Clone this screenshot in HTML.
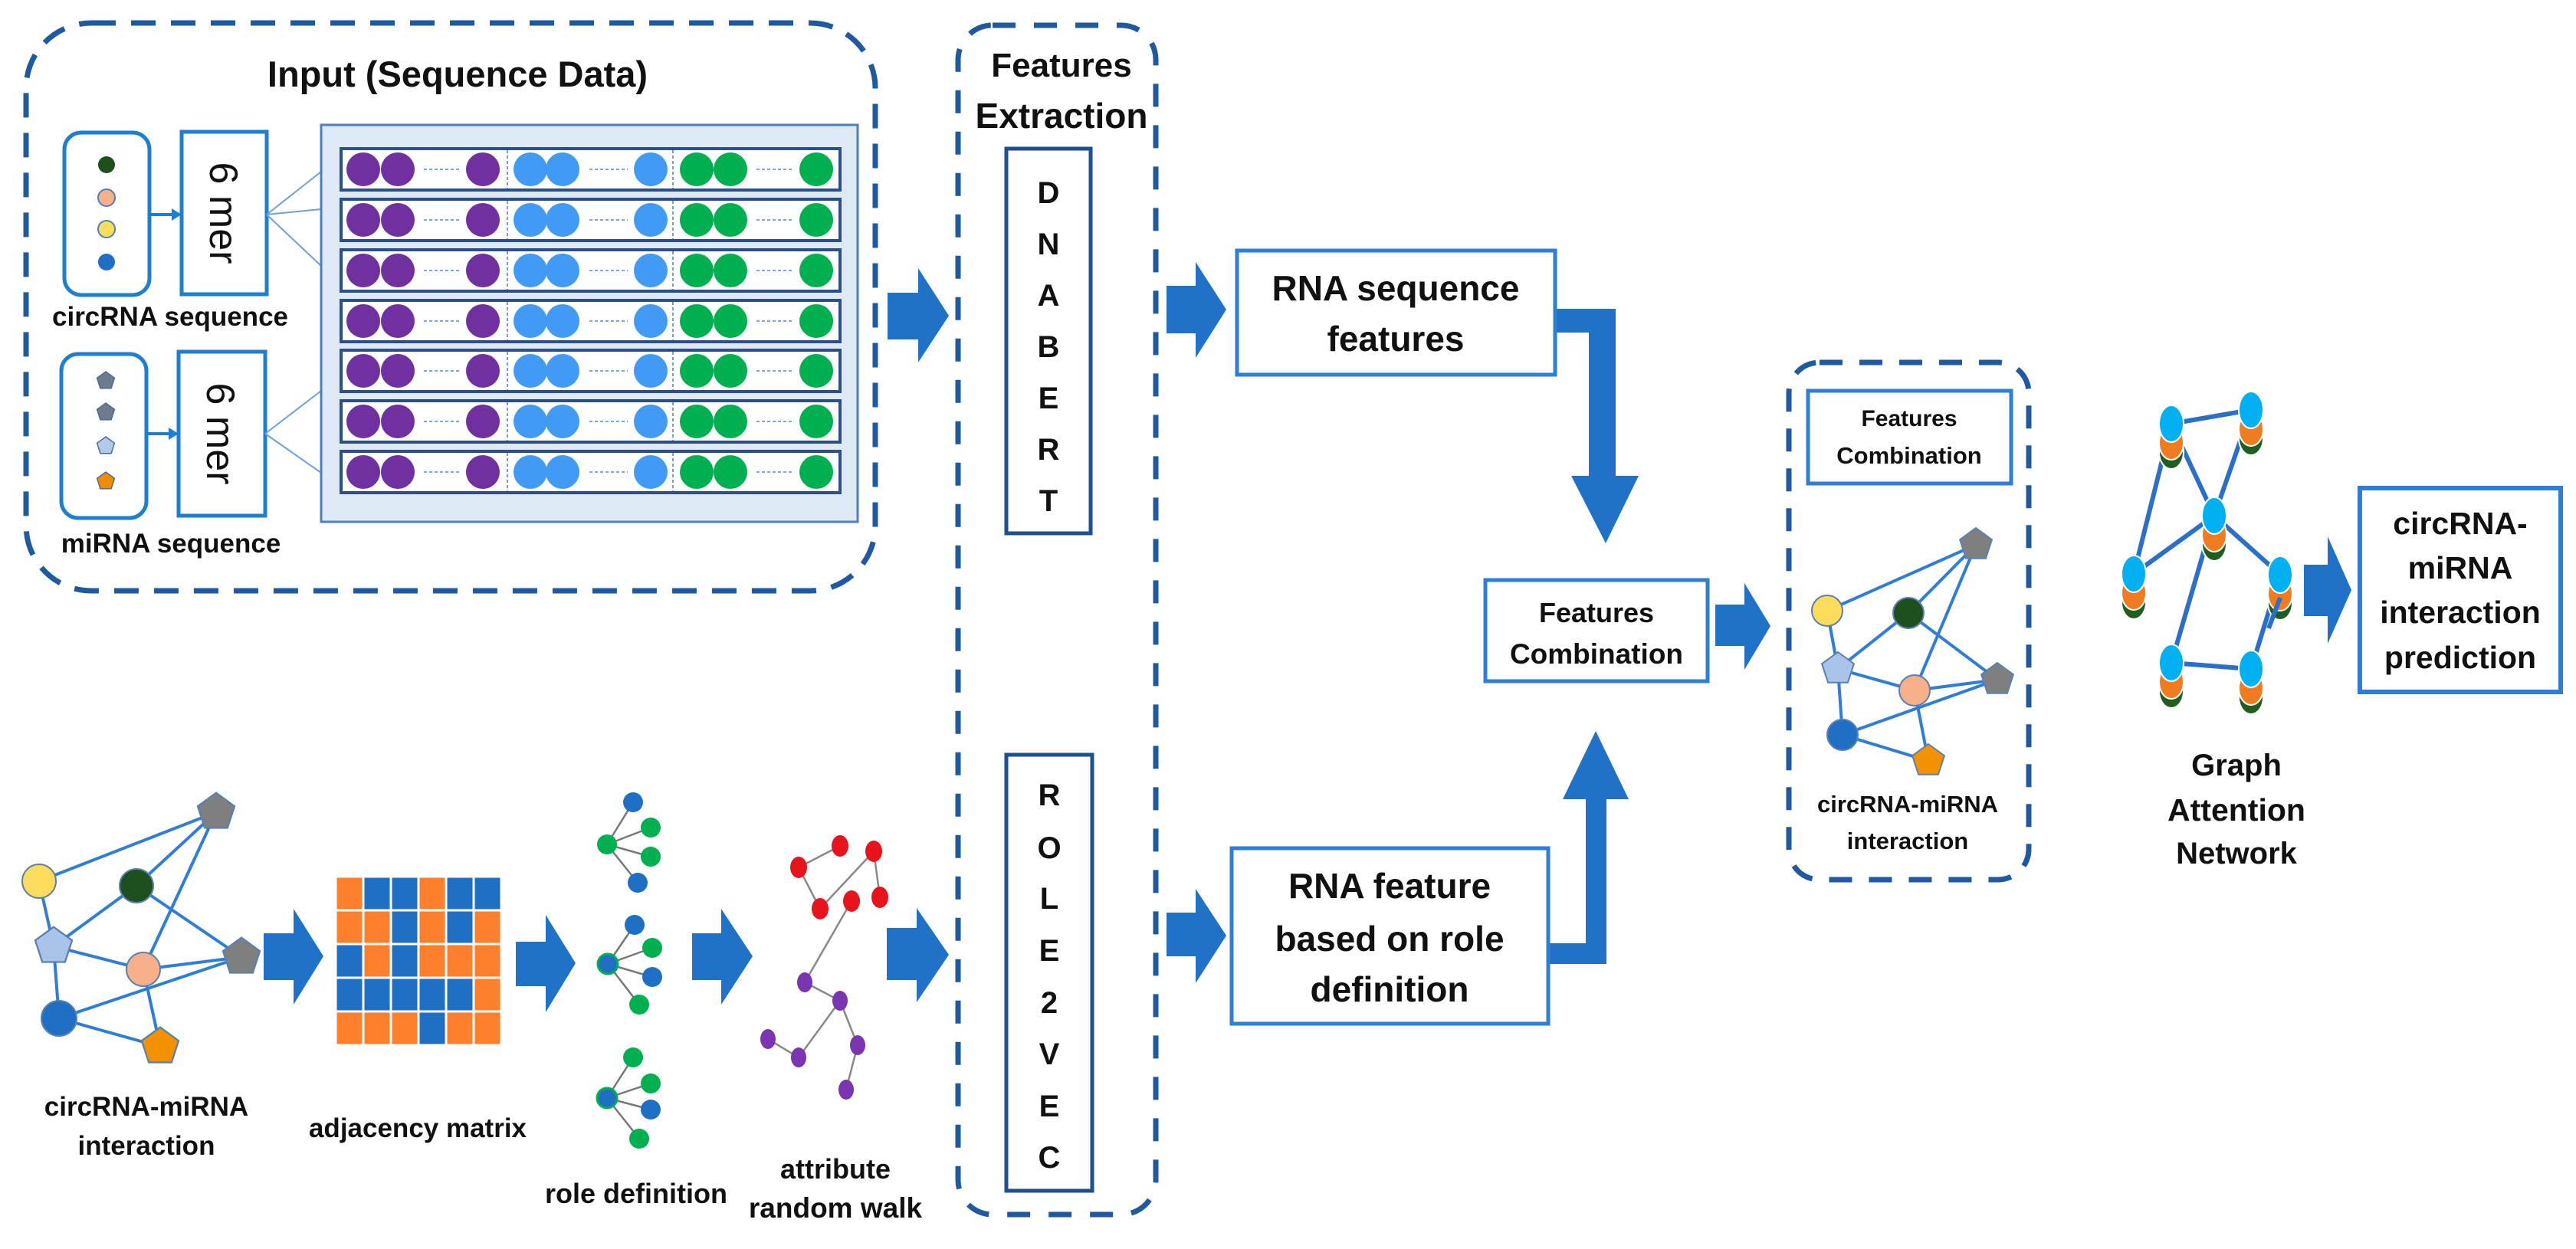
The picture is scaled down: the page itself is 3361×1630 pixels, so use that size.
<!DOCTYPE html>
<html><head><meta charset="utf-8"><style>
html,body{margin:0;padding:0;background:#fff}
svg{display:block}
text{font-family:"Liberation Sans",sans-serif;font-weight:bold;fill:#111}
</style></head><body>
<svg width="3361" height="1630" viewBox="0 0 3361 1630" xmlns="http://www.w3.org/2000/svg">
<defs>
<polygon id="pent" points="0,-22 20.9,-6.8 12.9,17.8 -12.9,17.8 -20.9,-6.8"/>
<polygon id="spent" points="0,-12 11.4,-3.7 7.1,9.7 -7.1,9.7 -11.4,-3.7"/>
<g id="row">
<rect x="445" y="0" width="651" height="54" fill="#fff" stroke="#2c4f8a" stroke-width="4"/>
<line x1="662" y1="2" x2="662" y2="52" stroke="#4a7fc0" stroke-width="1.5" stroke-dasharray="4 3"/>
<line x1="878" y1="2" x2="878" y2="52" stroke="#4a7fc0" stroke-width="1.5" stroke-dasharray="4 3"/>
<circle cx="474" cy="27" r="22" fill="#7030a0"/><circle cx="519" cy="27" r="22" fill="#7030a0"/><circle cx="630" cy="27" r="22" fill="#7030a0"/>
<circle cx="692" cy="27" r="22" fill="#419bf5"/><circle cx="734" cy="27" r="22" fill="#419bf5"/><circle cx="849" cy="27" r="22" fill="#419bf5"/>
<circle cx="909" cy="27" r="22" fill="#00b050"/><circle cx="953" cy="27" r="22" fill="#00b050"/><circle cx="1065" cy="27" r="22" fill="#00b050"/>
<g stroke="#7ea6e0" stroke-width="2" stroke-dasharray="4 3"><line x1="553" y1="27" x2="600" y2="27"/><line x1="769" y1="27" x2="819" y2="27"/><line x1="987" y1="27" x2="1033" y2="27"/></g>
</g>
</defs>

<!-- Input dashed box -->
<rect x="34" y="30" width="1108" height="741" rx="85" fill="none" stroke="#1f5aa0" stroke-width="7" stroke-dasharray="32 20"/>
<text x="597" y="113" font-size="47" text-anchor="middle">Input (Sequence Data)</text>

<rect x="84" y="173" width="111" height="212" rx="22" fill="none" stroke="#1e7fd0" stroke-width="5"/>
<circle cx="139" cy="215" r="11" fill="#1f4e1f"/><circle cx="139" cy="258" r="11" fill="#f8b08a" stroke="#4a7fc0" stroke-width="2"/><circle cx="139" cy="299" r="11" fill="#fddc5c" stroke="#4a7fc0" stroke-width="2"/><circle cx="139" cy="342" r="11" fill="#1f6fc5"/>
<line x1="195" y1="280" x2="228" y2="280" stroke="#1e7fd0" stroke-width="4"/><polygon points="237,280 224,272 224,288" fill="#1e7fd0"/>
<rect x="237" y="172" width="111" height="212" fill="#fff" stroke="#1e7fd0" stroke-width="5"/>
<text transform="translate(274,278) rotate(90)" font-size="52" text-anchor="middle" style="font-weight:normal">6 mer</text>
<text x="222" y="425" font-size="35" text-anchor="middle">circRNA sequence</text>

<rect x="80" y="462" width="111" height="214" rx="22" fill="none" stroke="#1e7fd0" stroke-width="5"/>
<g stroke="#4a6a9a" stroke-width="1.5"><use href="#spent" x="138" y="497" fill="#6e7b8b"/><use href="#spent" x="138" y="538" fill="#6e7b8b"/><use href="#spent" x="138" y="582" fill="#b4c8e8"/><use href="#spent" x="138" y="628" fill="#f08c00"/></g>
<line x1="191" y1="566" x2="224" y2="566" stroke="#1e7fd0" stroke-width="4"/><polygon points="233,566 220,558 220,574" fill="#1e7fd0"/>
<rect x="233" y="459" width="113" height="214" fill="#fff" stroke="#1e7fd0" stroke-width="5"/>
<text transform="translate(270,566) rotate(90)" font-size="52" text-anchor="middle" style="font-weight:normal">6 mer</text>
<text x="223" y="721" font-size="35" text-anchor="middle">miRNA sequence</text>

<g stroke="#6e9fdc" stroke-width="2"><line x1="348" y1="280" x2="419" y2="224"/><line x1="348" y1="280" x2="419" y2="273"/><line x1="348" y1="280" x2="419" y2="347"/><line x1="346" y1="566" x2="419" y2="510"/><line x1="346" y1="566" x2="419" y2="617"/></g>
<rect x="419" y="163" width="700" height="518" fill="#dde9f5" stroke="#4a7fc0" stroke-width="3"/>
<use href="#row" y="194"/><use href="#row" y="260"/><use href="#row" y="326"/><use href="#row" y="392"/><use href="#row" y="457"/><use href="#row" y="523"/><use href="#row" y="589"/>

<!-- arrows -->
<g fill="#1f72c8">
<polygon points="1158,382 1198,382 1198,350 1238,412 1198,473 1198,443 1158,443"/>
<polygon points="1522,373 1560,373 1560,342 1600,404 1560,467 1560,435 1522,435"/>
<polygon points="1157,1211 1196,1211 1196,1185 1238,1246 1196,1308 1196,1279 1157,1279"/>
<polygon points="1522,1191 1560,1191 1560,1160 1600,1221 1560,1283 1560,1248 1522,1248"/>
<polygon points="2029,403 2108,403 2108,621 2138,621 2095,709 2050,621 2073,621 2073,434 2029,434"/>
<polygon points="2018,1231 2069,1231 2069,1043 2039,1043 2082,954 2125,1043 2096,1043 2096,1258 2018,1258"/>
<polygon points="2238,789 2276,789 2276,761 2310,817 2276,874 2276,843 2238,843"/>
<polygon points="3006,737 3037,737 3037,700 3068,770 3037,840 3037,804 3006,804"/>
<polygon points="344,1218 383,1218 383,1186 422,1248 383,1311 383,1279 344,1279"/>
<polygon points="673,1229 712,1229 712,1194 751,1257 712,1321 712,1287 673,1287"/>
<polygon points="903,1218 941,1218 941,1186 982,1248 941,1311 941,1279 903,1279"/>
</g>

<!-- Features Extraction -->
<rect x="1250" y="33" width="258" height="1552" rx="45" fill="none" stroke="#1f5aa0" stroke-width="7" stroke-dasharray="30 24"/>
<text x="1385" y="100" font-size="44" text-anchor="middle">Features</text>
<text x="1385" y="167" font-size="46" text-anchor="middle">Extraction</text>
<rect x="1313" y="194" width="110" height="502" fill="#fff" stroke="#1f4f8f" stroke-width="5"/>
<g font-size="40" text-anchor="middle">
<text x="1368" y="265">D</text><text x="1368" y="332">N</text><text x="1368" y="399">A</text><text x="1368" y="466">B</text><text x="1368" y="533">E</text><text x="1368" y="600">R</text><text x="1368" y="667">T</text>
</g>
<rect x="1313" y="985" width="112" height="569" fill="#fff" stroke="#1f4f8f" stroke-width="5"/>
<g font-size="40" text-anchor="middle">
<text x="1369" y="1051">R</text><text x="1369" y="1120">O</text><text x="1369" y="1186">L</text><text x="1369" y="1254">E</text><text x="1369" y="1322">2</text><text x="1369" y="1389">V</text><text x="1369" y="1457">E</text><text x="1369" y="1524">C</text>
</g>

<!-- RNA boxes -->
<rect x="1614" y="327" width="415" height="162" fill="#fff" stroke="#2e7dd6" stroke-width="5"/>
<text x="1821" y="392" font-size="46" text-anchor="middle">RNA sequence</text>
<text x="1821" y="458" font-size="46" text-anchor="middle">features</text>
<rect x="1607" y="1107" width="413" height="229" fill="#fff" stroke="#2e7dd6" stroke-width="5"/>
<text x="1813" y="1172" font-size="46" text-anchor="middle">RNA feature</text>
<text x="1813" y="1241" font-size="46" text-anchor="middle">based on role</text>
<text x="1813" y="1307" font-size="46" text-anchor="middle">definition</text>

<rect x="1938" y="757" width="290" height="132" fill="#fff" stroke="#2e7dd6" stroke-width="5"/>
<text x="2083" y="812" font-size="36" text-anchor="middle">Features</text>
<text x="2083" y="866" font-size="37" text-anchor="middle">Combination</text>

<!-- right dashed box -->
<rect x="2334" y="473" width="313" height="675" rx="40" fill="none" stroke="#1f5aa0" stroke-width="7" stroke-dasharray="30 22"/>
<rect x="2359" y="510" width="265" height="121" fill="#fff" stroke="#2e7dd6" stroke-width="5"/>
<text x="2491" y="556" font-size="30" text-anchor="middle">Features</text>
<text x="2491" y="605" font-size="31" text-anchor="middle">Combination</text>
<g stroke="#2e7dd6" stroke-width="4">
<line x1="2384" y1="797" x2="2578" y2="711"/><line x1="2384" y1="797" x2="2398" y2="873"/><line x1="2490" y1="800" x2="2578" y2="711"/><line x1="2490" y1="800" x2="2398" y2="873"/><line x1="2490" y1="800" x2="2606" y2="887"/><line x1="2578" y1="711" x2="2498" y2="901"/><line x1="2398" y1="873" x2="2498" y2="901"/><line x1="2498" y1="901" x2="2606" y2="887"/><line x1="2398" y1="873" x2="2404" y2="959"/><line x1="2404" y1="959" x2="2606" y2="887"/><line x1="2498" y1="901" x2="2516" y2="993"/><line x1="2404" y1="959" x2="2516" y2="993"/>
</g>
<g stroke="#5a80b0" stroke-width="2">
<circle cx="2384" cy="797" r="20" fill="#fddc5c"/><circle cx="2490" cy="800" r="20" fill="#1f4e1f"/><circle cx="2498" cy="901" r="20" fill="#f8b08a"/><circle cx="2404" cy="959" r="20" fill="#1f6fc5"/>
<use href="#pent" x="2578" y="711" fill="#7f7f7f"/><use href="#pent" x="2606" y="887" fill="#7f7f7f"/><use href="#pent" x="2398" y="873" fill="#a9c4e8"/><use href="#pent" x="2516" y="993" fill="#f39200"/>
</g>
<text x="2489" y="1060" font-size="31" text-anchor="middle">circRNA-miRNA</text>
<text x="2489" y="1108" font-size="31" text-anchor="middle">interaction</text>

<!-- GAT -->
<g stroke="#2a6fc8" stroke-width="6">
<line x1="2833" y1="553" x2="2937" y2="535"/><line x1="2833" y1="553" x2="2784" y2="749"/><line x1="2833" y1="553" x2="2889" y2="673"/><line x1="2937" y1="535" x2="2889" y2="673"/><line x1="2889" y1="673" x2="2784" y2="749"/><line x1="2889" y1="673" x2="2975" y2="750"/><line x1="2889" y1="673" x2="2833" y2="865"/><line x1="2975" y1="750" x2="2937" y2="873"/><line x1="2833" y1="865" x2="2937" y2="873"/>
</g>
<g stroke="#fff" stroke-width="2">
<g><ellipse cx="2833" cy="590" rx="16" ry="22" fill="#1f5e1f"/><ellipse cx="2833" cy="578" rx="16" ry="22" fill="#f07c22"/><ellipse cx="2833" cy="553" rx="16" ry="24" fill="#00b0f0"/></g>
<g><ellipse cx="2937" cy="572" rx="16" ry="22" fill="#1f5e1f"/><ellipse cx="2937" cy="560" rx="16" ry="22" fill="#f07c22"/><ellipse cx="2937" cy="535" rx="16" ry="24" fill="#00b0f0"/></g>
<g><ellipse cx="2889" cy="710" rx="16" ry="22" fill="#1f5e1f"/><ellipse cx="2889" cy="698" rx="16" ry="22" fill="#f07c22"/><ellipse cx="2889" cy="673" rx="16" ry="24" fill="#00b0f0"/></g>
<g><ellipse cx="2784" cy="786" rx="16" ry="22" fill="#1f5e1f"/><ellipse cx="2784" cy="774" rx="16" ry="22" fill="#f07c22"/><ellipse cx="2784" cy="749" rx="16" ry="24" fill="#00b0f0"/></g>
<g><ellipse cx="2975" cy="787" rx="16" ry="22" fill="#1f5e1f"/><ellipse cx="2975" cy="775" rx="16" ry="22" fill="#f07c22"/><ellipse cx="2975" cy="750" rx="16" ry="24" fill="#00b0f0"/></g>
<g><ellipse cx="2833" cy="902" rx="16" ry="22" fill="#1f5e1f"/><ellipse cx="2833" cy="890" rx="16" ry="22" fill="#f07c22"/><ellipse cx="2833" cy="865" rx="16" ry="24" fill="#00b0f0"/></g>
<g><ellipse cx="2937" cy="910" rx="16" ry="22" fill="#1f5e1f"/><ellipse cx="2937" cy="898" rx="16" ry="22" fill="#f07c22"/><ellipse cx="2937" cy="873" rx="16" ry="24" fill="#00b0f0"/></g>
</g>
<line x1="2975" y1="780" x2="2960" y2="820" stroke="#2a6fc8" stroke-width="6"/>
<text x="2918" y="1012" font-size="40" text-anchor="middle">Graph</text>
<text x="2918" y="1071" font-size="41" text-anchor="middle">Attention</text>
<text x="2918" y="1127" font-size="40" text-anchor="middle">Network</text>

<rect x="3079" y="637" width="262" height="266" fill="#fff" stroke="#2e7dd6" stroke-width="6"/>
<g font-size="41" text-anchor="middle">
<text x="3210" y="697">circRNA-</text><text x="3210" y="755">miRNA</text><text x="3210" y="813">interaction</text><text x="3210" y="872">prediction</text>
</g>

<!-- bottom-left graph -->
<g stroke="#2e7dd6" stroke-width="4">
<line x1="51" y1="1150" x2="282" y2="1060"/><line x1="51" y1="1150" x2="70" y2="1235"/><line x1="178" y1="1156" x2="282" y2="1060"/><line x1="178" y1="1156" x2="70" y2="1235"/><line x1="178" y1="1156" x2="315" y2="1249"/><line x1="282" y1="1060" x2="187" y2="1265"/><line x1="70" y1="1235" x2="187" y2="1265"/><line x1="187" y1="1265" x2="315" y2="1249"/><line x1="70" y1="1235" x2="77" y2="1329"/><line x1="77" y1="1329" x2="315" y2="1249"/><line x1="187" y1="1265" x2="209" y2="1366"/><line x1="77" y1="1329" x2="209" y2="1366"/>
</g>
<g stroke="#5a80b0" stroke-width="2">
<circle cx="51" cy="1150" r="22" fill="#fddc5c"/><circle cx="178" cy="1156" r="22" fill="#1f4e1f"/><circle cx="187" cy="1265" r="22" fill="#f8b08a"/><circle cx="77" cy="1329" r="23" fill="#1f6fc5"/>
<use href="#pent" x="282" y="1060" fill="#7f7f7f" transform="translate(282,1060) scale(1.15) translate(-282,-1060)"/><use href="#pent" x="315" y="1249" fill="#7f7f7f" transform="translate(315,1249) scale(1.15) translate(-315,-1249)"/><use href="#pent" x="70" y="1235" fill="#a9c4e8" transform="translate(70,1235) scale(1.15) translate(-70,-1235)"/><use href="#pent" x="209" y="1366" fill="#f39200" transform="translate(209,1366) scale(1.15) translate(-209,-1366)"/>
</g>
<text x="191" y="1456" font-size="35" text-anchor="middle">circRNA-miRNA</text>
<text x="191" y="1507" font-size="35" text-anchor="middle">interaction</text>

<!-- adjacency matrix -->
<g stroke="#fff" stroke-width="3">
<rect x="438" y="1144" width="36" height="44" fill="#fd7f2b"/><rect x="474" y="1144" width="36" height="44" fill="#1f6fc5"/><rect x="510" y="1144" width="36" height="44" fill="#1f6fc5"/><rect x="546" y="1144" width="36" height="44" fill="#fd7f2b"/><rect x="582" y="1144" width="36" height="44" fill="#1f6fc5"/><rect x="618" y="1144" width="36" height="44" fill="#1f6fc5"/>
<rect x="438" y="1188" width="36" height="44" fill="#fd7f2b"/><rect x="474" y="1188" width="36" height="44" fill="#fd7f2b"/><rect x="510" y="1188" width="36" height="44" fill="#1f6fc5"/><rect x="546" y="1188" width="36" height="44" fill="#fd7f2b"/><rect x="582" y="1188" width="36" height="44" fill="#1f6fc5"/><rect x="618" y="1188" width="36" height="44" fill="#fd7f2b"/>
<rect x="438" y="1232" width="36" height="44" fill="#1f6fc5"/><rect x="474" y="1232" width="36" height="44" fill="#fd7f2b"/><rect x="510" y="1232" width="36" height="44" fill="#1f6fc5"/><rect x="546" y="1232" width="36" height="44" fill="#fd7f2b"/><rect x="582" y="1232" width="36" height="44" fill="#fd7f2b"/><rect x="618" y="1232" width="36" height="44" fill="#fd7f2b"/>
<rect x="438" y="1276" width="36" height="44" fill="#1f6fc5"/><rect x="474" y="1276" width="36" height="44" fill="#1f6fc5"/><rect x="510" y="1276" width="36" height="44" fill="#1f6fc5"/><rect x="546" y="1276" width="36" height="44" fill="#1f6fc5"/><rect x="582" y="1276" width="36" height="44" fill="#1f6fc5"/><rect x="618" y="1276" width="36" height="44" fill="#fd7f2b"/>
<rect x="438" y="1320" width="36" height="44" fill="#fd7f2b"/><rect x="474" y="1320" width="36" height="44" fill="#fd7f2b"/><rect x="510" y="1320" width="36" height="44" fill="#fd7f2b"/><rect x="546" y="1320" width="36" height="44" fill="#1f6fc5"/><rect x="582" y="1320" width="36" height="44" fill="#fd7f2b"/><rect x="618" y="1320" width="36" height="44" fill="#fd7f2b"/>
</g>
<text x="545" y="1484" font-size="35" text-anchor="middle">adjacency matrix</text>

<!-- role definition trees -->
<g stroke="#777" stroke-width="2.5">
<line x1="792" y1="1102" x2="826" y2="1047"/><line x1="792" y1="1102" x2="849" y2="1080"/><line x1="792" y1="1102" x2="849" y2="1118"/><line x1="792" y1="1102" x2="832" y2="1152"/>
<line x1="793" y1="1258" x2="828" y2="1207"/><line x1="793" y1="1258" x2="851" y2="1237"/><line x1="793" y1="1258" x2="851" y2="1275"/><line x1="793" y1="1258" x2="834" y2="1311"/>
<line x1="792" y1="1433" x2="826" y2="1380"/><line x1="792" y1="1433" x2="849" y2="1414"/><line x1="792" y1="1433" x2="849" y2="1448"/><line x1="792" y1="1433" x2="834" y2="1486"/>
</g>
<g>
<circle cx="792" cy="1102" r="13" fill="#00b050"/><circle cx="826" cy="1047" r="13" fill="#1f6fc5"/><circle cx="849" cy="1080" r="13" fill="#00b050"/><circle cx="849" cy="1118" r="13" fill="#00b050"/><circle cx="832" cy="1152" r="13" fill="#1f6fc5"/>
<circle cx="793" cy="1258" r="13" fill="#1f6fc5" stroke="#00b050" stroke-width="3"/><circle cx="828" cy="1207" r="13" fill="#1f6fc5"/><circle cx="851" cy="1237" r="13" fill="#00b050"/><circle cx="851" cy="1275" r="13" fill="#1f6fc5"/><circle cx="834" cy="1311" r="13" fill="#00b050"/>
<circle cx="792" cy="1433" r="13" fill="#1f6fc5" stroke="#00b050" stroke-width="3"/><circle cx="826" cy="1380" r="13" fill="#00b050"/><circle cx="849" cy="1414" r="13" fill="#00b050"/><circle cx="849" cy="1448" r="13" fill="#1f6fc5"/><circle cx="834" cy="1486" r="13" fill="#00b050"/>
</g>
<text x="830" y="1570" font-size="36" text-anchor="middle">role definition</text>

<!-- random walk -->
<g stroke="#888" stroke-width="2.5">
<line x1="1042" y1="1132" x2="1096" y2="1104"/><line x1="1042" y1="1132" x2="1070" y2="1186"/><line x1="1140" y1="1111" x2="1148" y2="1171"/><line x1="1140" y1="1111" x2="1070" y2="1186"/><line x1="1111" y1="1176" x2="1050" y2="1282"/>
<line x1="1050" y1="1282" x2="1096" y2="1306"/><line x1="1096" y1="1306" x2="1042" y2="1380"/><line x1="1002" y1="1356" x2="1042" y2="1380"/><line x1="1096" y1="1306" x2="1119" y2="1364"/><line x1="1119" y1="1364" x2="1104" y2="1422"/>
</g>
<g fill="#e8141c">
<ellipse cx="1042" cy="1132" rx="11" ry="14"/><ellipse cx="1096" cy="1104" rx="11" ry="14"/><ellipse cx="1140" cy="1111" rx="11" ry="14"/><ellipse cx="1070" cy="1186" rx="11" ry="14"/><ellipse cx="1111" cy="1176" rx="11" ry="14"/><ellipse cx="1148" cy="1171" rx="11" ry="14"/>
</g>
<g fill="#7b35b0">
<ellipse cx="1050" cy="1282" rx="10" ry="13"/><ellipse cx="1096" cy="1306" rx="10" ry="13"/><ellipse cx="1002" cy="1356" rx="10" ry="13"/><ellipse cx="1042" cy="1380" rx="10" ry="13"/><ellipse cx="1119" cy="1364" rx="10" ry="13"/><ellipse cx="1104" cy="1422" rx="10" ry="13"/>
</g>
<text x="1090" y="1538" font-size="36" text-anchor="middle">attribute</text>
<text x="1090" y="1589" font-size="37" text-anchor="middle">random walk</text>
</svg>
</body></html>
